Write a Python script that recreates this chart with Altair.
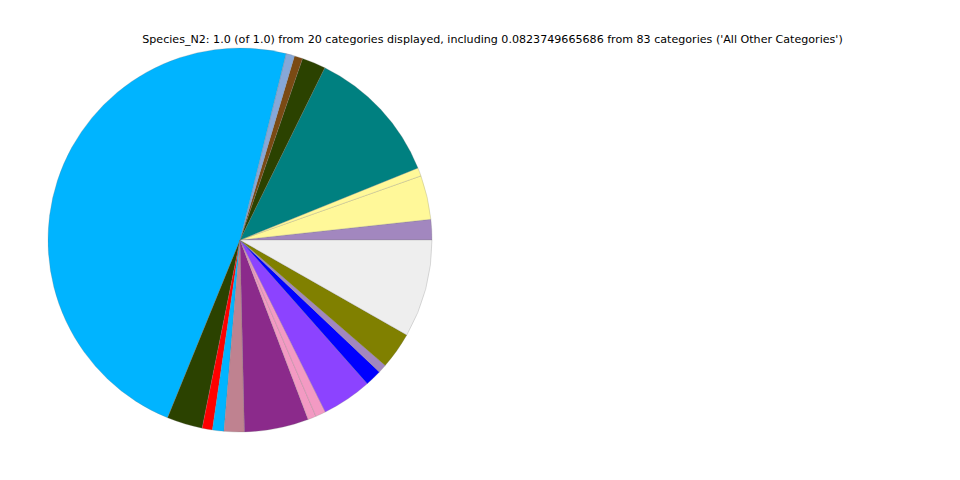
import math
import altair as alt
import pandas as pd

# Share of each displayed category, counter-clockwise from 3 o'clock
categories = [f"Cat {i:02d}" for i in range(1, 20)] + ["All Other Categories"]
shares = [0.0172, 0.0370, 0.0070, 0.1160, 0.0200, 0.0070, 0.0072, 0.4770,
          0.0300, 0.0086, 0.0097, 0.0170, 0.0540, 0.0070, 0.0086, 0.0420,
          0.0140, 0.0072, 0.0311, 0.0823749665686]
colors = ["#a287bf", "#fff899", "#fff899", "#008080", "#2b4200", "#7a4a13",
          "#86a8d8", "#00b4ff", "#2b4200", "#ff0000", "#00b4ff", "#bf8290",
          "#8b2a8b", "#f39ac3", "#f39ac3", "#8c43ff", "#0000ff", "#a287bf",
          "#808000", "#eeeeee"]

title_text = ("Species_N2: 1.0 (of 1.0) from 20 categories displayed, including "
              "0.0823749665686 from 83 categories ('All Other Categories')")

df = pd.DataFrame({"category": categories, "share": shares,
                   "order": list(range(len(categories)))})

start = math.pi / 2
pie = alt.Chart(df).mark_arc(
    radius=192, stroke="#777777", strokeWidth=0.4, strokeOpacity=0.6
).encode(
    theta=alt.Theta("share:Q", stack=True,
                    scale=alt.Scale(domain=[0, sum(shares)],
                                    range=[start, start - 2 * math.pi])),
    order=alt.Order("order:Q"),
    color=alt.Color("category:N", scale=alt.Scale(domain=categories, range=colors),
                    legend=None),
    x=alt.value(240),
    y=alt.value(240),
)

title = alt.Chart(pd.DataFrame({"t": [title_text]})).mark_text(
    font="DejaVu Sans", fontSize=11.1, color="#000000", align="center", baseline="middle"
).encode(text="t:N", x=alt.value(492.5), y=alt.value(40))

chart = alt.layer(pie, title).properties(
    width=960, height=480, autosize=alt.AutoSizeParams(type="none"),
    padding=0
).configure_view(stroke=None)

chart.save("out.html", embed_options={"renderer": "svg", "actions": False})
